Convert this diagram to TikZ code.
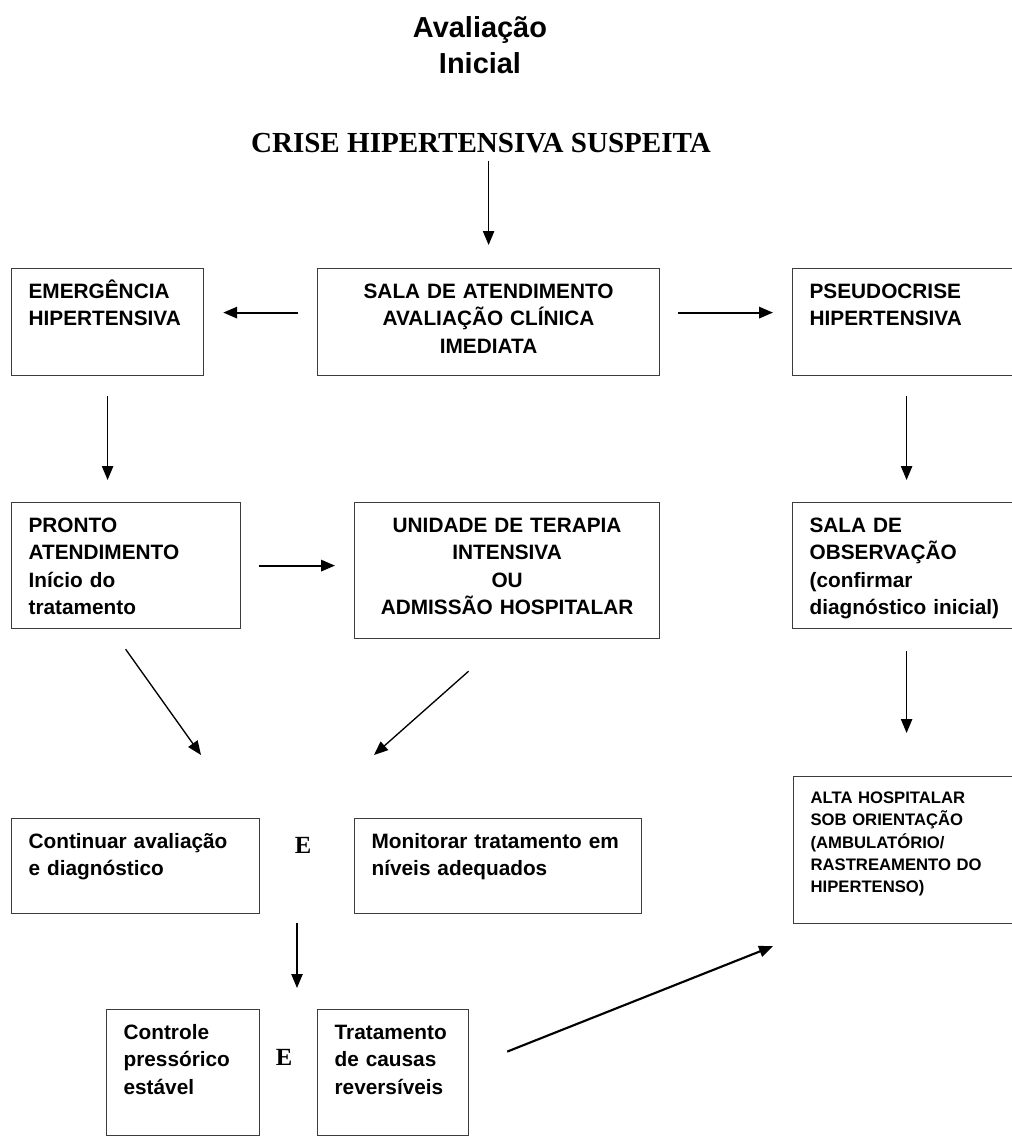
\documentclass[tikz,border=0pt]{standalone}
\usepackage{fontspec}
\setmainfont{Liberation Sans}
\newfontfamily\serifbold{Liberation Serif}
\definecolor{FrameColor}{RGB}{60,60,60}
\usetikzlibrary{positioning, arrows.meta}

\begin{document}
\begin{tikzpicture}[x=0.75pt, y=-0.75pt,
    box/.style={draw=FrameColor, line width=0.9pt, anchor=north west, inner xsep=12.75pt, inner ysep=0pt,
      font=\bfseries\fontsize{15.6}{20.6}\selectfont, align=left, text height=22.1pt},
    tbox/.style 2 args={box, text width=#1, text depth=#2},
    cbox/.style 2 args={tbox={#1}{#2}, align=center},
    conj/.style={font=\serifbold\bfseries\fontsize{18.5}{22}\selectfont, anchor=base, inner sep=0pt},
    arr/.style={-{Triangle[length=10.5pt, width=8.5pt]}, line width=1pt},
    harr/.style={arr, line width=1.6pt}]
  \useasboundingbox (0,0) rectangle (1012,1136);

  % titulo
  \node[font=\bfseries\fontsize{21.7}{27}\selectfont, text width=150pt, align=center, anchor=base, inner sep=0pt] (titulo) at (480,37) {Avaliação\\Inicial};
  \node[font=\serifbold\bfseries\fontsize{21.8}{26}\selectfont, anchor=base, inner sep=0pt] (crise) at (481,152) {CRISE HIPERTENSIVA SUSPEITA};

  % primeira linha
  \node[tbox={118.5pt}{58.1pt}] (emerg) at (11,268) {EMERGÊNCIA\\HIPERTENSIVA};
  \node[cbox={231pt}{58.1pt}] (sala) at (317,268) {SALA DE ATENDIMENTO\\AVALIAÇÃO CLÍNICA\\IMEDIATA};
  \node[tbox={145.5pt}{58.1pt}] (pseudo) at (792,268) {PSEUDOCRISE\\HIPERTENSIVA};

  % segunda linha
  \node[tbox={146.25pt}{72.4pt}] (pronto) at (11,502) {PRONTO\\ATENDIMENTO\\Início do\\tratamento};
  \node[cbox={203.25pt}{79.9pt}] (uti) at (354,502) {UNIDADE DE TERAPIA\\INTENSIVA\\OU\\ADMISSÃO HOSPITALAR};
  \node[tbox={145.5pt}{72.4pt}] (obs) at (792,502) {SALA DE\\OBSERVAÇÃO\\(confirmar\\diagnóstico inicial)};

  % terceira linha
  \node[tbox={160.5pt}{49.1pt}] (cont) at (11,818) {Continuar avaliação\\e diagnóstico};
  \node[conj] (e1) at (303,853) {E};
  \node[tbox={189.75pt}{49.1pt}] (monit) at (354,818) {Monitorar tratamento em\\níveis adequados};
  \node[tbox={144.75pt}{90pt}, text height=20.25pt, font=\bfseries\fontsize{12.5}{16.7}\selectfont] (alta) at (793,776)
    {ALTA HOSPITALAR\\SOB ORIENTAÇÃO\\(AMBULATÓRIO/\\RASTREAMENTO DO\\HIPERTENSO)};

  % quarta linha
  \node[tbox={89.25pt}{72.4pt}] (ctrl) at (106,1009) {Controle\\pressórico\\estável};
  \node[conj] (e2) at (284,1065) {E};
  \node[tbox={87.75pt}{72.4pt}] (trat) at (317,1009) {Tratamento\\de causas\\reversíveis};

  \coordinate (junta1) at (201,755);
  \coordinate (junta2) at (374,755);
  \coordinate (ramo) at (297,923);

  % setas
  \draw[arr, shorten <=6pt, shorten >=17.25pt] (crise.south -| sala.north) -- (sala.north);
  \draw[harr, shorten <=14.25pt, shorten >=14.25pt] ([yshift=7.1pt]sala.west) -- ([yshift=7.1pt]sala.west -| emerg.east);
  \draw[harr, shorten <=13.5pt, shorten >=14.25pt] ([yshift=7.1pt]sala.east) -- ([yshift=7.1pt]sala.east -| pseudo.west);
  \draw[arr, shorten <=15pt, shorten >=16.5pt] (emerg.south) -- (emerg.south |- pronto.north);
  \draw[arr, shorten <=15pt, shorten >=16.5pt] (pseudo.south) -- (pseudo.south |- obs.north);
  \draw[harr, shorten <=13.5pt, shorten >=14.25pt] (pronto.east) -- (pronto.east -| uti.west);
  \draw[arr, shorten <=16.5pt, shorten >=32.25pt] (obs.south) -- (obs.south |- alta.north);
  \draw[arr] ([shift={(-0.5,20)}]pronto.south) -- (junta1);
  \draw[arr] ([shift={(-38.5,32)}]uti.south) -- (junta2);
  \draw[arr, shorten >=15.75pt] (ramo) -- (ramo |- ctrl.north);
  \draw[harr] ([shift={(38,-21)}]trat.east) -- ([shift={(-20,22)}]alta.south west);
\end{tikzpicture}
\end{document}
